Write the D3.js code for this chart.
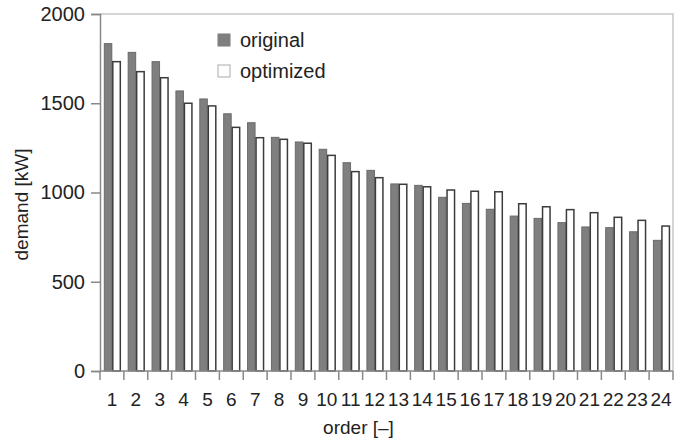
<!DOCTYPE html>
<html>
  <head>
    <script src="https://d3js.org/d3.v7.min.js"></script>
    <style>
      body { margin: 0; background: #fff; }
      text { font-family: "Liberation Sans", Arial, sans-serif; fill: #222; }
    </style>
  </head>
  <body>
    <svg id="chart" width="686" height="441"></svg>
    <script>
      let orders = d3.range(1, 25);
      let original = [1834, 1785, 1733, 1569, 1524, 1441, 1391, 1309, 1283, 1242, 1167, 1124,
                      1048, 1040, 973, 939, 906, 868, 855, 831, 807, 803, 780, 732];
      let optimized = [1733, 1677, 1643, 1500, 1485, 1365, 1307, 1298, 1276, 1208, 1117, 1083,
                       1046, 1032, 1014, 1007, 1004, 937, 920, 904, 887, 861, 844, 812];
      let series = ["original", "optimized"];
      let yTicks = [0, 500, 1000, 1500, 2000];

      let svg = d3.select("#chart");
      let plotLeft = 100, plotRight = 673, plotTop = 14, plotBottom = 371;

      let x = d3.scaleBand().domain(orders).range([plotLeft, plotRight]).padding(0);
      let x1 = d3.scaleBand().domain(series).range([3.8, 20.8]).padding(0);
      let y = d3.scaleLinear().domain([0, 2000]).range([plotBottom, plotTop]);

      // frame (top / right)
      svg.append("path")
        .attr("d", `M${plotLeft},${plotTop}H${plotRight}V${plotBottom}`)
        .attr("fill", "none")
        .attr("stroke", "#c8c8c8")
        .attr("stroke-width", 1.5);

      let rows = orders.map((o, i) => ({ order: o, original: original[i], optimized: optimized[i] }));

      let groups = svg.append("g").selectAll("g")
        .data(rows)
        .join("g")
        .attr("transform", (d) => `translate(${x(d.order)},0)`);

      groups.selectAll("rect")
        .data((d) => series.map((s) => ({ key: s, value: d[s] })))
        .join("rect")
        .attr("x", (d) => x1(d.key) + 0.5)
        .attr("y", (d) => y(d.value))
        .attr("width", x1.bandwidth() - 1)
        .attr("height", (d) => plotBottom - y(d.value))
        .attr("fill", (d) => (d.key === "original" ? "#7f7f7f" : "#ffffff"))
        .attr("stroke", (d) => (d.key === "original" ? "#6a6a6a" : "#3c3c3c"))
        .attr("stroke-width", (d) => (d.key === "original" ? 1 : 1.5));

      // y axis
      let yAxis = svg.append("g")
        .attr("transform", `translate(${plotLeft},0)`)
        .call(d3.axisLeft(y).tickValues(yTicks).tickSize(9).tickPadding(6).tickFormat(d3.format("d")));
      yAxis.select(".domain").attr("stroke", "#888").attr("stroke-width", 1.5);
      yAxis.selectAll(".tick line").attr("stroke", "#888").attr("stroke-width", 1.5);
      yAxis.selectAll("text").style("font-size", "20px").attr("fill", "#222");

      // x axis with ticks on band edges
      let xAxis = svg.append("g").attr("transform", `translate(0,${plotBottom})`);
      xAxis.append("line")
        .attr("x1", plotLeft).attr("x2", plotRight)
        .attr("stroke", "#888").attr("stroke-width", 1.5);
      xAxis.selectAll("line.edge")
        .data(orders.concat([25]))
        .join("line")
        .attr("class", "edge")
        .attr("x1", (d) => (d <= 24 ? x(d) : plotRight))
        .attr("x2", (d) => (d <= 24 ? x(d) : plotRight))
        .attr("y1", 0).attr("y2", 9)
        .attr("stroke", "#888").attr("stroke-width", 1.5);
      xAxis.selectAll("text")
        .data(orders)
        .join("text")
        .attr("x", (d) => x(d) + x.bandwidth() / 2)
        .attr("y", 35)
        .attr("text-anchor", "middle")
        .style("font-size", "19px")
        .text((d) => d);

      // axis titles
      svg.append("text")
        .attr("x", (plotLeft + plotRight) / 2 - 28)
        .attr("y", 434)
        .attr("text-anchor", "middle")
        .style("font-size", "19px")
        .text("order [\u2013]");
      svg.append("text")
        .attr("transform", `translate(28,${(plotTop + plotBottom) / 2 + 12}) rotate(-90)`)
        .attr("text-anchor", "middle")
        .style("font-size", "19px")
        .text("demand [kW]");

      // legend
      let legend = svg.append("g").attr("transform", "translate(218,34)");
      let items = legend.selectAll("g")
        .data(series)
        .join("g")
        .attr("transform", (d, i) => `translate(0,${i * 31})`);
      items.append("rect")
        .attr("width", 12).attr("height", 12)
        .attr("fill", (d) => (d === "original" ? "#7f7f7f" : "#fff"))
        .attr("stroke", (d) => (d === "original" ? "#7f7f7f" : "#aaa"));
      items.append("text")
        .attr("x", 22).attr("y", 13)
        .style("font-size", "20px")
        .text((d) => d);
    </script>
  </body>
</html>
